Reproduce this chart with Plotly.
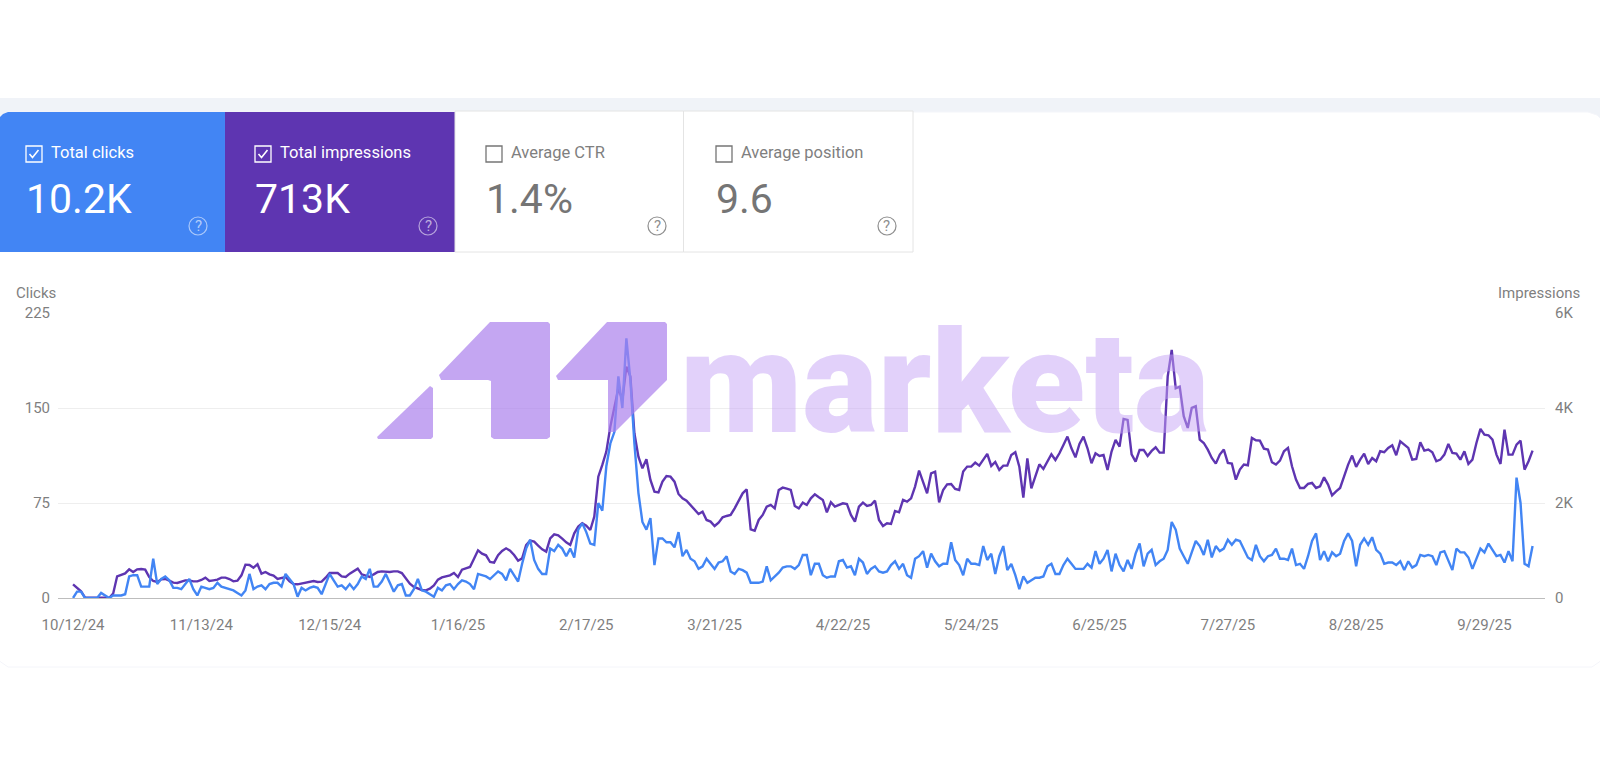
import pandas as pd
import plotly.graph_objects as go

start_date = "2024-10-12"

clicks = [
    0, 5, 5, 0, 0, 0, 0, 4, 2, 0, 2, 2, 2, 3, 17, 18, 18, 9, 9, 9, 31, 11, 15, 17, 14, 8, 8, 7, 11, 15,
    7, 2, 9, 8, 7, 8, 12, 9, 8, 7, 6, 4, 2, 6, 19, 7, 9, 10, 7, 11, 12, 12, 9, 19, 15, 11, 1, 8, 6, 8,
    9, 8, 3, 11, 19, 14, 9, 10, 7, 11, 7, 11, 17, 15, 23, 9, 9, 13, 19, 12, 5, 10, 11, 2, 2, 7, 15, 6, 5, 3,
    1, 8, 6, 10, 11, 7, 11, 14, 13, 11, 7, 19, 18, 17, 15, 18, 21,
    19, 14, 23, 18, 13, 27, 39, 46, 30, 23, 19, 19, 39, 37, 42, 39, 33, 39, 32, 54, 59, 52, 43, 42, 75, 69,
    104, 122, 131, 175, 150, 205, 172, 122, 83, 60, 54, 63, 26, 47, 47, 44, 44, 40, 52, 33, 38, 31, 29, 23,
    25, 31, 27, 23, 28, 29, 33, 21, 19, 23, 22, 20, 12, 12, 12, 13, 25, 14, 17, 20,
    24, 25, 25, 23, 26, 34, 34, 18, 27, 27, 18, 16, 17, 17, 29, 30, 24, 25, 18, 31, 28, 19, 23, 25, 21, 20,
    21, 26, 29, 23, 27, 18, 16, 31, 33, 37, 24, 35, 29, 25, 27, 27, 44, 30, 26, 18, 31, 27, 27, 26, 41, 30,
    35, 19, 33, 41, 22, 27, 18, 7, 17, 12, 14, 16, 16, 17, 25, 27, 19, 19, 26, 31, 27, 23, 23, 23, 27, 24,
    37, 27, 31, 38, 21, 35, 26, 21, 30, 23, 35, 43, 25, 35, 38, 26, 29, 31, 38, 60, 54, 39,
    33, 27, 36, 45, 41, 34, 46, 32, 41, 37, 39, 46, 42, 46, 45, 39, 32, 30, 42, 33, 29, 33, 34, 39, 31, 31,
    30, 39, 26, 27, 23, 33, 45, 51, 30, 37, 29, 36, 33, 35, 45, 51, 45, 25, 42, 47, 42, 48, 38, 35, 27, 28,
    28, 26, 29, 22, 29, 24, 26, 34, 33, 34, 33, 26, 36, 37, 30, 22, 39, 36, 36, 32, 23, 31, 39, 36, 43, 38,
    33, 34, 28, 37, 29, 95, 75, 27, 25, 41,
]

impressions = [
    288, 218, 140, 7, 7, 7, 7, 21, 7, 0, 91, 456, 491, 519, 604, 548, 604, 611, 597, 442, 358, 337, 393, 400,
    365, 323, 316, 344, 372, 372, 351, 351, 379, 428, 358, 372, 386, 428, 428, 400, 351, 365, 477, 702, 695,
    639, 709, 512, 548, 498, 470, 400, 428, 442, 351, 295, 288, 302, 316, 337, 358, 337, 344, 428, 526, 526,
    526, 456, 442, 512, 561, 618, 498, 477, 442, 498, 548, 561, 548, 548, 561, 561, 526, 407, 302, 232, 197,
    169, 161, 197, 267, 386, 435, 449, 477, 526, 442, 597, 625, 653, 828, 1004, 934, 899, 758, 744, 899,
    990, 1046, 997, 906, 786, 835, 1116, 1207, 1186, 1102, 1025, 976, 1257, 1341, 1320, 1250, 1172, 1116,
    1362, 1502, 1572, 1523, 1432, 1713, 2555, 2801, 3082, 3608, 4029, 4416, 4170, 4872, 4661, 3468, 2976,
    2731, 2920, 2485, 2239, 2225, 2450, 2569, 2555, 2450, 2190, 2099, 2050, 1959, 1853, 1769, 1818, 1643,
    1608, 1516, 1587, 1699, 1727, 1748, 1888, 2064, 2204, 2289, 1446, 1418, 1643, 1748, 1923, 1959, 1888, 2274,
    2324, 2303, 2274, 1937, 1888, 2008, 1959, 2099, 2183, 2120, 2064, 1804, 2015, 1923, 1952, 1994, 1980,
    1748, 1608, 1923, 2008, 1937, 1959, 2050, 1643, 1516, 1573, 1558, 1832, 1804, 2064, 2029, 2099, 2345,
    2682, 2450, 2204, 2625, 2661, 2015, 2274, 2394, 2401, 2296, 2274, 2661, 2766, 2766, 2850, 2787, 2906,
    3033, 2780, 2864, 2696, 2787, 2787, 3012, 3068, 2766, 2113, 2941, 2310, 2555, 2815, 2717, 2871, 3026,
    2906, 3047, 3222, 3398, 3152, 2962, 3243, 3398, 3152, 2836, 3047, 2990, 3012, 2696, 3082, 3327, 3187,
    3770, 3749, 3026, 2871, 3117, 3117, 2990, 3096, 3173, 3061, 3061, 4661, 5223, 4416, 4451,
    3826, 3580, 4001, 4036, 3334, 3264, 3124, 2948, 2829, 3019, 3124, 2843, 2829, 2492, 2703, 2808, 2794,
    3370, 3320, 3313, 3145, 3124, 2857, 2808, 2892, 3089, 3159, 2773, 2492, 2317, 2317, 2401, 2422, 2317,
    2352, 2541, 2387, 2162, 2246, 2317, 2562, 2808, 2998, 2759, 2913, 3040, 2822, 2948, 2878, 3089, 3068,
    3159, 3215, 3005, 3299, 3229, 3159, 2913, 2927, 3278, 3103, 3124, 3068, 2878, 2913, 3019, 3243, 3054,
    3040, 2913, 3089, 2822, 2913, 3264, 3559, 3440, 3426, 3334, 3019, 2822, 3545, 3019, 3019, 3229, 3313,
    2703, 2878, 3103,
]

tick_dates = ["2024-10-12", "2024-11-13", "2024-12-15", "2025-01-16", "2025-02-17", "2025-03-21",
              "2025-04-22", "2025-05-24", "2025-06-25", "2025-07-27", "2025-08-28", "2025-09-29"]
tick_labels = ["10/12/24", "11/13/24", "12/15/24", "1/16/25", "2/17/25", "3/21/25",
               "4/22/25", "5/24/25", "6/25/25", "7/27/25", "8/28/25", "9/29/25"]
clicks_ticks = [0, 75, 150, 225]
impressions_ticks = [0, 2000, 4000, 6000]
impressions_labels = ["0", "2K", "4K", "6K"]

card_labels = ["Total clicks", "Total impressions", "Average CTR", "Average position"]
card_values = ["10.2K", "713K", "1.4%", "9.6"]

W, H = 1600, 765
BLUE = "#4285F4"
PURPLE = "#5E35B1"
GREY = "#7F7F7F"
FONT = "Roboto"


# page pixels to paper coordinates
def px(x):
    return x / W


def py(y):
    return 1 - y / H


def poly(points):
    return "M " + " L ".join(f"{px(x):.5f},{py(y):.5f}" for x, y in points) + " Z"


shapes = []
annotations = []


def box(x0, y0, x1, y1, fill, line=None, layer="below", width=1):
    shapes.append(dict(type="rect", xref="paper", yref="paper", x0=px(x0), x1=px(x1), y0=py(y0), y1=py(y1),
                       fillcolor=fill, line=dict(color=line or fill, width=width if line else 0), layer=layer))


def label(x, y, text, size, color, anchor="left", weight=400):
    annotations.append(dict(xref="paper", yref="paper", x=px(x), y=py(y), text=text, showarrow=False,
                            xanchor=anchor, yanchor="middle", borderpad=0,
                            font=dict(family=FONT, size=size, color=color, weight=weight)))


# page background band and panel
box(0, 98, W, 130, "#F0F3F8")
shapes.append(dict(type="path", xref="paper", yref="paper", layer="below", fillcolor="#FFFFFF",
                   line=dict(color="#F4F5FA", width=1),
                   path=poly([(-2, 120), (8, 112), (W - 12, 112), (W - 3, 115), (W + 2, 120), (W + 2, 660), (W - 8, 667),
                              (8, 667), (-2, 660)])))

# metric cards
shapes.append(dict(type="path", xref="paper", yref="paper", layer="below", fillcolor=BLUE, line=dict(width=0),
                   path=poly([(0, 117), (3, 114), (8, 112), (225, 112), (225, 252), (0, 252)])))
box(225, 112, 455, 252, "#5E35B1")
box(455, 111, 683.5, 252, "#FFFFFF", "#E4E4E4")
box(683.5, 111, 913, 252, "#FFFFFF", "#E4E4E4")

card_left = [26, 255, 486, 716]
icon_x = [198, 428, 657, 887]
for i in range(4):
    selected = i < 2
    ink = "#FFFFFF" if selected else "#757575"
    left = card_left[i]
    shapes.append(dict(type="rect", xref="paper", yref="paper", layer="below", fillcolor="rgba(0,0,0,0)",
                       x0=px(left), x1=px(left + 16), y0=py(146), y1=py(162), line=dict(color=ink, width=1.3)))
    if selected:
        shapes.append(dict(type="path", xref="paper", yref="paper", layer="below", line=dict(color=ink, width=1.6),
                           path="M " + " L ".join(f"{px(left + a):.5f},{py(b):.5f}"
                                                  for a, b in [(3.5, 154), (6.5, 157.5), (12.5, 150)])))
    label(left + 24, 153, card_labels[i], 16.5, ink if selected else "#7F7F7F")
    label(left - 1, 199, card_values[i], 41, ink)
    shapes.append(dict(type="circle", xref="paper", yref="paper", layer="below", x0=px(icon_x[i] - 9),
                       x1=px(icon_x[i] + 9), y0=py(217), y1=py(235),
                       line=dict(color="rgba(255,255,255,0.55)" if selected else "#8F8F8F", width=1.2)))
    label(icon_x[i], 226, "?", 15, "rgba(255,255,255,0.6)" if selected else "#8F8F8F", "center")

# axis titles
label(15, 293, "Clicks", 15, GREY)
label(1581, 293, "Impressions", 15, GREY, "right")

# watermark sits over the lines
logo_fill = "rgba(171,128,236,0.7)"
for pts in [
    [(377, 437), (430, 386), (433, 388), (433, 437), (431, 439), (378, 439)],
    [(439, 375), (490, 322), (548, 322), (550, 324), (550, 437), (547, 439), (494, 439), (491, 437), (491, 381),
     (488, 380), (441, 380)],
    [(556, 376), (607, 322), (665, 322), (667, 324), (667, 380), (615, 432), (608, 432), (608, 380), (558, 380)],
]:
    shapes.append(dict(type="path", xref="paper", yref="paper", layer="above", fillcolor=logo_fill,
                       line=dict(width=0), path=poly(pts)))
annotations.append(dict(xref="paper", yref="paper", x=px(944), y=py(383), text="marketa", showarrow=False,
                        xanchor="center", yanchor="middle",
                        font=dict(family=FONT, size=142, color="rgba(197,163,245,0.5)", weight=900)))

dates = pd.date_range(start_date, periods=len(clicks))

fig = go.Figure()
fig.add_trace(go.Scatter(x=dates, y=impressions, mode="lines", name="Impressions", yaxis="y",
                         line=dict(color=PURPLE, width=2.4)))
fig.add_trace(go.Scatter(x=dates, y=clicks, mode="lines", name="Clicks", yaxis="y2",
                         line=dict(color=BLUE, width=2.4)))

fig.update_layout(
    width=W, height=H,
    margin=dict(l=0, r=0, t=0, b=0),
    paper_bgcolor="#FFFFFF",
    plot_bgcolor="rgba(0,0,0,0)",
    showlegend=False,
    font=dict(family=FONT, color=GREY, size=15),
    shapes=shapes,
    annotations=annotations,
    xaxis=dict(domain=[px(58), px(1545)], range=["2024-10-08 06:00", "2025-10-14 02:24"],
               tickvals=tick_dates, ticktext=tick_labels, showgrid=False, showline=True, automargin=False,
               linecolor="#BDBDBD", linewidth=1, ticks="", ticklabelstandoff=13, zeroline=False),
    yaxis=dict(domain=[py(598), py(313)], range=[0, 6000], side="right", tickvals=impressions_ticks,
               ticktext=impressions_labels, gridcolor="#EEEEEE", gridwidth=1, zeroline=False, automargin=False,
               ticks="", ticklabelstandoff=9),
    yaxis2=dict(range=[0, 225], overlaying="y", side="left", tickvals=clicks_ticks, showgrid=False,
                zeroline=False, automargin=False, ticks="", ticklabelstandoff=7),
)

# the page margin has to go before the photo, so resize once it is gone
fix_page = """
document.body.style.margin = '0';
document.documentElement.style.overflow = 'hidden';
Plotly.relayout(document.getElementById('{plot_id}'), {width: 1600, height: 765});
"""
fig.write_html("out.html", config={"displayModeBar": False}, post_script=fix_page)
